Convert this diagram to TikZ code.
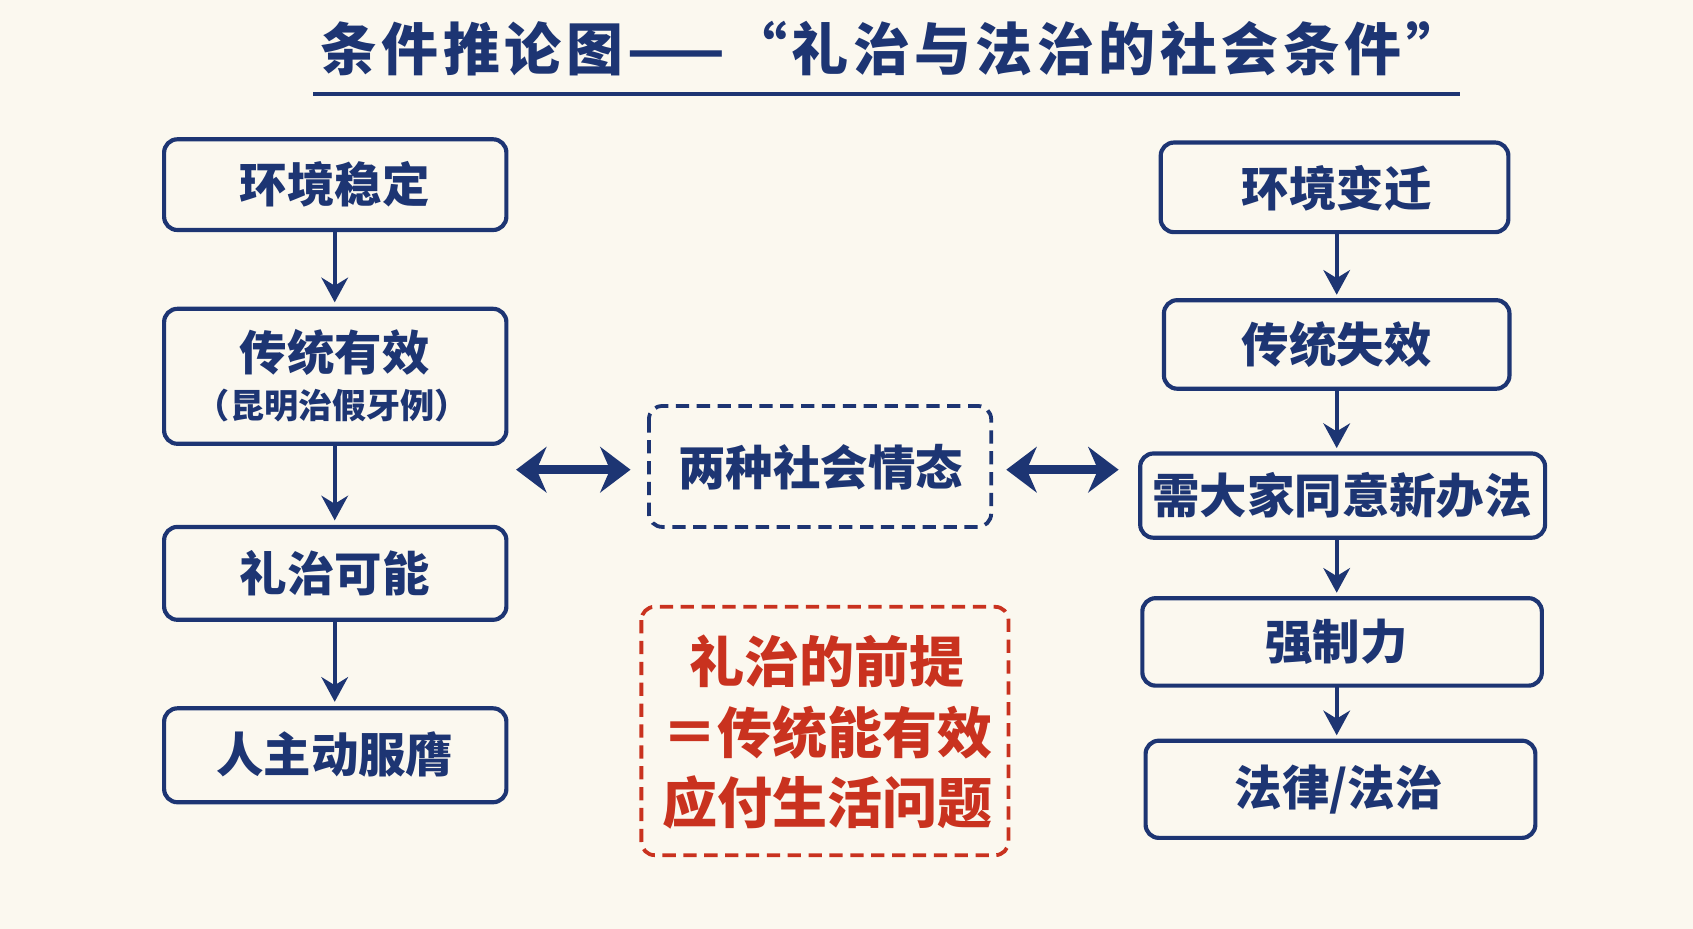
\documentclass[tikz,border=0pt]{standalone}
\usepackage{fontspec}
\setmainfont{Noto Sans CJK SC}
\newfontfamily\cjk{Noto Sans CJK SC}
\newfontfamily\cjksp[LetterSpace=8]{Noto Sans CJK SC}
\usetikzlibrary{arrows.meta}
\definecolor{navy}{HTML}{1D3573}
\definecolor{redd}{HTML}{C9321F}
\definecolor{bg}{HTML}{FBF8EF}
\begin{document}
\begin{tikzpicture}[x=0.02cm,y=-0.02cm,
 box/.style={draw=navy,line width=2.2pt,rounded corners=7pt,fill=bg},
 txt/.style={text=navy,font=\cjk\bfseries\fontsize{25}{30}\selectfont},
 arr/.style={draw=navy,line width=2.2pt,-{Stealth[length=13pt,width=14pt]}},
 dbl/.style={draw=navy,line width=4.5pt,{Stealth[length=16pt,width=24pt]}-{Stealth[length=16pt,width=24pt]}}]
\fill[bg] (0,0) rectangle (1568,860);
\useasboundingbox (0,0) rectangle (1568,860);
\node[text=navy,font=\cjksp\bfseries\fontsize{30}{34}\selectfont] (title) at (826,45) {条件推论图——“礼治与法治的社会条件”};
\coordinate (ul1) at (290,87); \coordinate (ul2) at (1352,87);
\draw[navy,line width=2.5pt] (ul1) -- (ul2);
% left
\draw[box] (152,129) rectangle (469,213); \node[txt] (l1) at (310,171) {环境稳定};
\draw[box] (152,286) rectangle (469,411);
\node[txt] (l2) at (310,326) {传统有效};
\node[text=navy,font=\cjk\bfseries\fontsize{18}{22}\selectfont] (l2s) at (308,376) {（昆明治假牙例）};
\draw[box] (152,488) rectangle (469,574); \node[txt] (l3) at (310,531) {礼治可能};
\draw[box] (152,656) rectangle (469,743); \node[txt] (l4) at (310,699) {人主动服膺};
\coordinate (l1b) at (310,213); \coordinate (l2t) at (310,280);
\coordinate (l2b) at (310,411); \coordinate (l3t) at (310,482);
\coordinate (l3b) at (310,574); \coordinate (l4t) at (310,650);
\draw[arr] (l1b) -- (l2t); \draw[arr] (l2b) -- (l3t); \draw[arr] (l3b) -- (l4t);
% middle
\draw[draw=navy,line width=2pt,dash pattern=on 7pt off 4pt,rounded corners=7pt] (601,376) rectangle (918,488);
\node[txt] (m) at (760,433) {两种社会情态};
\coordinate (dl1) at (478,435); \coordinate (dl2) at (584,435);
\coordinate (dr1) at (932,435); \coordinate (dr2) at (1036,435);
\draw[dbl] (dl1) -- (dl2); \draw[dbl] (dr1) -- (dr2);
\draw[draw=redd,line width=2pt,dash pattern=on 7pt off 4pt,rounded corners=7pt] (594,562) rectangle (934,792);
\node[text=redd,font=\cjk\bfseries\fontsize{29}{37}\selectfont,align=center] (red) at (766,678) {礼治的前提\\＝传统能有效\\应付生活问题};
% right
\draw[box] (1075,132) rectangle (1397,215); \node[txt] (r1) at (1238,174) {环境变迁};
\draw[box] (1078,278) rectangle (1398,360); \node[txt] (r2) at (1238,319) {传统失效};
\draw[box] (1056,420) rectangle (1431,498); \node[txt] (r3) at (1243,459) {需大家同意新办法};
\draw[box] (1058,554) rectangle (1428,635); \node[txt] (r4) at (1238,594) {强制力};
\draw[box] (1061,686) rectangle (1422,776); \node[txt] (r5) at (1240,731) {法律/法治};
\coordinate (r1b) at (1238,215); \coordinate (r2t) at (1238,273);
\coordinate (r2b) at (1238,360); \coordinate (r3t) at (1238,415);
\coordinate (r3b) at (1238,498); \coordinate (r4t) at (1238,549);
\coordinate (r4b) at (1238,635); \coordinate (r5t) at (1238,681);
\draw[arr] (r1b) -- (r2t); \draw[arr] (r2b) -- (r3t); \draw[arr] (r3b) -- (r4t); \draw[arr] (r4b) -- (r5t);
\end{tikzpicture}
\end{document}
